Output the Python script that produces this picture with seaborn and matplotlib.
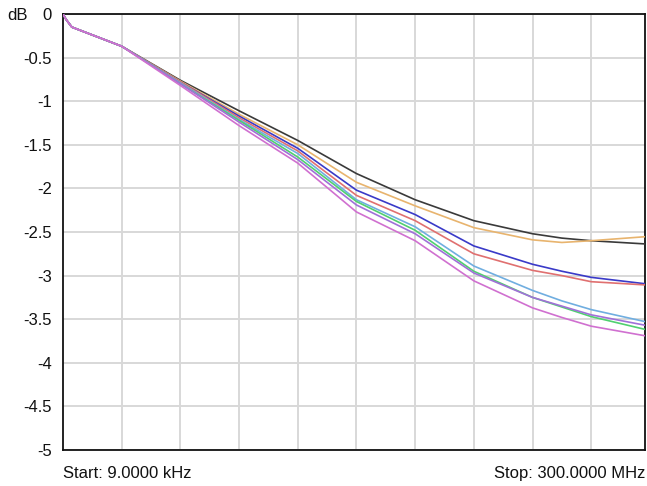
import numpy as np
import pandas as pd
import matplotlib
matplotlib.use("Agg")
import matplotlib.pyplot as plt
import seaborn as sns

# frequency points (MHz)
freq_mhz = [0, 1.5, 4.5, 30, 60, 90, 120, 150, 180, 210, 240, 255, 270, 300]

black  = [0, -0.06, -0.15, -0.37, -0.76, -1.11, -1.45, -1.83, -2.13, -2.37, -2.52, -2.57, -2.60, -2.64]
orange = [0, -0.06, -0.15, -0.37, -0.77, -1.15, -1.50, -1.93, -2.20, -2.45, -2.59, -2.62, -2.60, -2.55]
blue   = [0, -0.06, -0.15, -0.37, -0.78, -1.17, -1.54, -2.02, -2.30, -2.66, -2.87, -2.95, -3.02, -3.10]
red    = [0, -0.06, -0.15, -0.37, -0.78, -1.19, -1.57, -2.08, -2.37, -2.75, -2.94, -3.00, -3.07, -3.11]
ltblue = [0, -0.06, -0.15, -0.37, -0.79, -1.21, -1.60, -2.13, -2.44, -2.89, -3.17, -3.29, -3.39, -3.54]
green  = [0, -0.06, -0.15, -0.37, -0.80, -1.22, -1.64, -2.15, -2.48, -2.95, -3.25, -3.36, -3.47, -3.63]
purple = [0, -0.06, -0.15, -0.37, -0.80, -1.24, -1.67, -2.19, -2.52, -2.97, -3.25, -3.35, -3.45, -3.58]
pink   = [0, -0.06, -0.15, -0.37, -0.82, -1.28, -1.71, -2.27, -2.60, -3.06, -3.37, -3.48, -3.58, -3.70]

series_names = ["black", "orange", "blue", "red", "ltblue", "green", "purple", "pink"]
series_vals = [black, orange, blue, red, ltblue, green, purple, pink]
palette = {
    "black": "#3a3a3a",
    "orange": "#e8b46e",
    "blue": "#3a3ac8",
    "red": "#e07070",
    "ltblue": "#70aee0",
    "green": "#50d070",
    "purple": "#a070d8",
    "pink": "#d070d0",
}

y_ticks = [0, -0.5, -1, -1.5, -2, -2.5, -3, -3.5, -4, -4.5, -5]
y_labels = ["0", "-0.5", "-1", "-1.5", "-2", "-2.5", "-3", "-3.5", "-4", "-4.5", "-5"]
x_grid = [30, 60, 90, 120, 150, 180, 210, 240, 270]

rows = []
for name, vals in zip(series_names, series_vals):
    for f, v in zip(freq_mhz, vals):
        rows.append({"freq": f, "dB": v, "trace": name})
df = pd.DataFrame(rows)

sns.set_theme(style="white")
plt.rcParams["font.family"] = ["Liberation Sans", "DejaVu Sans"]

W, H = 647, 486
fig = plt.figure(figsize=(W / 100, H / 100), dpi=100)
left, right, top, bottom = 63, 645, 14, 450
ax = fig.add_axes([left / W, 1 - bottom / H, (right - left) / W, (bottom - top) / H])

sns.lineplot(data=df, x="freq", y="dB", hue="trace", palette=palette,
             hue_order=series_names, linewidth=1.2, legend=False, ax=ax,
             sort=False, zorder=3)

ax.set_xlim(0, 297.5)
ax.set_ylim(-5, 0)
ax.set_xticks(x_grid)
ax.set_xticklabels([])
ax.set_yticks(y_ticks)
ax.set_yticklabels(y_labels, fontsize=12, color="#111111")
ax.tick_params(axis="both", length=0, pad=8)
ax.grid(True, color="#d8d8d8", linewidth=1.4)
ax.set_xlabel("")
ax.set_ylabel("")
for s in ax.spines.values():
    s.set_visible(True)
    s.set_color("#111111")
    s.set_linewidth(1.3)

fig.text(7 / W, 1 - 16 / H, "dB", fontsize=12, ha="left", va="center", color="#111111")
fig.text(63 / W, 1 - 473 / H, "Start: 9.0000 kHz", fontsize=12, ha="left", va="center", color="#111111")
fig.text(645 / W, 1 - 473 / H, "Stop: 300.0000 MHz", fontsize=12, ha="right", va="center", color="#111111")

fig.savefig("out.png", dpi=100)
